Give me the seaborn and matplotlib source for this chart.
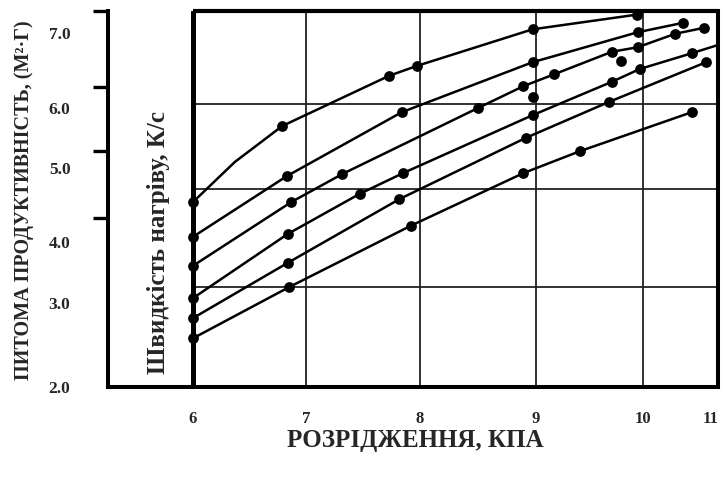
import numpy as np
import pandas as pd
import matplotlib
matplotlib.use("Agg")
import matplotlib.pyplot as plt
import seaborn as sns

sns.set_theme(style="white")
plt.rcParams["font.family"] = ["Liberation Serif", "DejaVu Serif"]
plt.rcParams["font.weight"] = "bold"

# markers of each curve (x = vacuum, kPa ; y = read on the left scale)
c1_x = [6.0, 6.79, 7.73, 7.97, 8.97, 9.94]
c1_y = [4.54, 5.70, 6.43, 6.56, 7.05, 7.25]
c2_x = [6.0, 6.83, 7.84, 8.97, 9.95, 10.54]
c2_y = [4.07, 4.89, 5.93, 6.61, 7.01, 7.14]
c3_x = [6.0, 6.87, 7.32, 8.50, 8.89, 9.17, 9.71, 9.95, 10.43, 10.81]
c3_y = [3.61, 4.54, 4.92, 6.00, 6.29, 6.45, 6.75, 6.81, 6.99, 7.07]
c4_x = [6.0, 6.84, 7.47, 7.85, 8.97, 9.71, 9.97, 10.65]
c4_y = [3.08, 4.11, 4.65, 4.93, 5.88, 6.35, 6.52, 6.73]
c5_x = [6.0, 6.84, 7.82, 8.91, 9.68, 10.84]
c5_y = [2.82, 3.66, 4.58, 5.50, 6.08, 6.61]
c6_x = [6.0, 6.85, 7.92, 8.89, 9.41, 10.65]
c6_y = [2.58, 3.26, 4.22, 4.93, 5.28, 5.93]
# extra points (no marker there)
c1_line_x = [6.37]
c1_line_y = [5.10]
c4_line_x = [11.0]
c4_line_y = [6.84]
# two points lying off the curves
extra_x = [8.97, 9.79]
extra_y = [6.15, 6.63]

x_ticks = [6, 7, 8, 9, 10, 11]
y_ticks = [2.0, 3.0, 4.0, 5.0, 6.0, 7.0]
y_ticklabels = ["2.0", "3.0", "4.0", "5.0", "6.0", "7.0"]

# hand drawn axes: uneven spacing, mapped piecewise to pixel positions
X_NODES = [5.25, 6, 7, 8, 9, 10, 11]
X_PX = [108, 193, 306, 420, 536, 643, 718]
Y_NODES = [2.0, 3.0, 4.0, 5.0, 6.0, 7.0, 7.3]
Y_PX = [-387, -303, -242, -168, -108, -33, -11]


def fx(v):
    return np.interp(v, X_NODES, X_PX)


def fx_inv(p):
    return np.interp(p, X_PX, X_NODES)


def fy(v):
    return np.interp(v, Y_NODES, Y_PX)


def fy_inv(p):
    return np.interp(p, Y_PX, Y_NODES)


curves = [(c1_x + c1_line_x, c1_y + c1_line_y), (c2_x, c2_y), (c3_x, c3_y),
          (c4_x + c4_line_x, c4_y + c4_line_y), (c5_x, c5_y), (c6_x, c6_y)]
line_df = pd.concat([pd.DataFrame({"x": cx, "y": cy, "curve": i})
                     for i, (cx, cy) in enumerate(curves)], ignore_index=True)

marks = [(c1_x, c1_y), (c2_x, c2_y), (c3_x, c3_y), (c4_x, c4_y),
         (c5_x, c5_y), (c6_x, c6_y), (extra_x, extra_y)]
mark_df = pd.concat([pd.DataFrame({"x": mx, "y": my}) for mx, my in marks],
                    ignore_index=True)

fig = plt.figure(figsize=(7.21, 4.79), dpi=100)
W, H = 721, 479
ax = fig.add_axes([108 / W, (H - 387) / H, (718 - 108) / W, (387 - 11) / H])
ax.set_xscale("function", functions=(fx, fx_inv))
ax.set_yscale("function", functions=(fy, fy_inv))
ax.set_xlim(5.25, 11)
ax.set_ylim(2.0, 7.3)

# inner frame and its grid
ax.vlines([7, 8, 9, 10], 2.0, 7.3, color="#222222", lw=1.3, zorder=1)
ax.hlines([3.26, 4.72, 6.05], 6, 11, color="#222222", lw=1.3, zorder=1)
ax.axvline(6, color="black", lw=3.6, zorder=2)
ax.hlines(7.3, 6, 11, color="black", lw=3.0, zorder=2, clip_on=False)

sns.lineplot(data=line_df, x="x", y="y", hue="curve", units="curve",
             estimator=None, sort=True, palette=["black"] * 6,
             legend=False, lw=1.8, ax=ax, zorder=3)
sns.scatterplot(data=mark_df, x="x", y="y", color="black", s=60,
                linewidth=0, ax=ax, zorder=4, legend=False)

for side in ["left", "bottom", "right"]:
    ax.spines[side].set_linewidth(2.9)
    ax.spines[side].set_color("black")
ax.spines["top"].set_visible(False)

ax.set_xticks(x_ticks)
ax.set_xticklabels([str(t) for t in x_ticks])
ax.xaxis.set_minor_locator(matplotlib.ticker.NullLocator())
ax.tick_params(axis="x", length=0, pad=17, labelsize=12)
ax.get_xticklabels()[-1].set_horizontalalignment("right")

ax.set_yticks(y_ticks)
ax.set_yticklabels(y_ticklabels)
ax.set_yticks([3.0, 4.32, 5.28, 6.28, 7.3], minor=True)
ax.tick_params(axis="y", which="major", length=0, pad=27, labelsize=12.5)
ax.tick_params(axis="y", which="minor", left=True, length=11, width=2.4,
               direction="out", color="black")
ax.set_xlabel("")
ax.set_ylabel("")

fig.text(415 / W, 1 - 441 / H, "РОЗРІДЖЕННЯ, КПА", ha="center", va="center",
         fontsize=18, fontweight="bold")
fig.text(24 / W, 1 - 200 / H, "ПИТОМА ПРОДУКТИВНІСТЬ, (М²·Г)", rotation=90,
         ha="center", va="center", fontsize=14.5, fontweight="bold")
fig.text(159 / W, 1 - 243 / H, "Швидкість нагріву, К/с", rotation=90,
         ha="center", va="center", fontsize=18, fontweight="bold")

fig.savefig("out.png", dpi=100)
